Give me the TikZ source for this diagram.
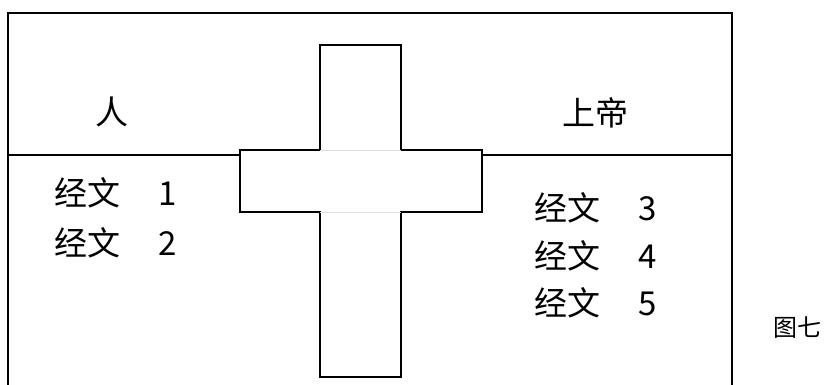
\documentclass[tikz,border=0pt]{standalone}
\usepackage{fontspec}
\newfontfamily\cjk{Noto Sans CJK SC}

\begin{document}
\begin{tikzpicture}[x=1pt, y=1pt,
    line/.style={draw=black, line width=1.6pt},
    head/.style={font=\cjk\fontsize{33}{37}\selectfont, inner sep=0pt},
    verse/.style={font=\cjk\fontsize{33}{37}\selectfont, inner sep=0pt, anchor=west},
    caption/.style={font=\cjk\fontsize{24}{28}\selectfont, inner sep=0pt}]

  \useasboundingbox (0,0) rectangle (830,385);

  % frame and divider
  \draw[line] (8,0) -- (8,372) -- (732,372) -- (732,0);
  \draw[line] (8,230) -- (732,230);

  % cross
  \filldraw[line, fill=white] (320,340) -- (401,340) -- (401,235) -- (482,235)
    -- (482,173) -- (401,173) -- (401,8) -- (320,8) -- (320,173) -- (240,173)
    -- (240,235) -- (320,235) -- cycle;
  \draw[gray!25, line width=0.8pt] (320,235) -- (401,235);
  \draw[gray!25, line width=0.8pt] (320,173) -- (401,173);

  \node[head] (man) at (112,273) {人};
  \node[head] (god) at (595,272) {上帝};

  \node[verse] (v1) at (54,192) {经文\hspace{38pt}1};
  \node[verse] (v2) at (54,142) {经文\hspace{38pt}2};

  \node[verse] (v3) at (534,177) {经文\hspace{38pt}3};
  \node[verse] (v4) at (534,129) {经文\hspace{38pt}4};
  \node[verse] (v5) at (534,82)  {经文\hspace{38pt}5};

  \node[caption] (fig) at (797,57) {图七};
\end{tikzpicture}
\end{document}
